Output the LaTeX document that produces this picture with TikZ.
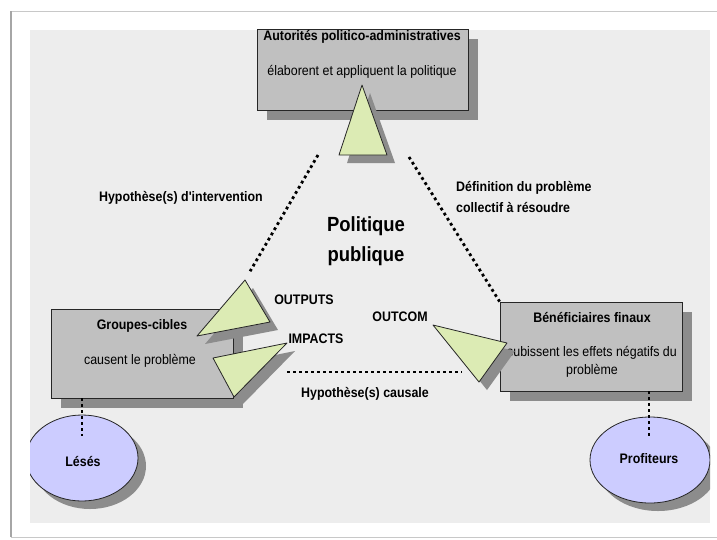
\documentclass[tikz,border=0pt]{standalone}
\usepackage{fontspec}
\setmainfont{Liberation Sans}
\newfontfamily\narrow[FakeStretch=0.9]{Liberation Sans}
\usetikzlibrary{calc,shapes.geometric,shadows}
\definecolor{bgc}{HTML}{EDEDED}
\definecolor{boxc}{HTML}{C0C0C0}
\definecolor{shc}{HTML}{8C8C8C}
\definecolor{trc}{HTML}{DCEBB4}
\definecolor{elc}{HTML}{CCCCFF}
\definecolor{framec}{HTML}{C8C8C8}
\begin{document}
\begin{tikzpicture}[x=1pt,y=-1pt,
  box/.style={draw=black!85, line width=0.8pt, fill=boxc, inner sep=0pt,
    general shadow={fill=shc, shadow xshift=10pt, shadow yshift=-10pt}},
  ell/.style={ellipse, draw=black!85, line width=0.8pt, fill=elc, inner sep=0pt,
    general shadow={fill=shc, shadow xshift=8pt, shadow yshift=-8pt}},
  tri/.style={draw=black!85, line width=0.8pt, fill=trc, line join=round},
  trish/.style={fill=shc, draw=none},
  lbl/.style={font=\narrow\fontsize{13.8}{16}\selectfont\bfseries, inner sep=0pt, anchor=base},
  txt/.style={font=\narrow\fontsize{13.8}{16}\selectfont, inner sep=0pt, anchor=base},
  big/.style={font=\narrow\fontsize{20.5}{24}\selectfont\bfseries, inner sep=0pt, anchor=base},
  dots/.style={line width=2.8pt, dash pattern=on 2.8pt off 3.2pt}
]
\useasboundingbox (0,0) rectangle (717,539);
% frame and background
\fill[white] (0,0) rectangle (717,539);
\draw[framec, line width=0.6pt] (11,11) -- (717,11);
\draw[framec, line width=0.8pt] (11,537) -- (717,537);
\draw[black!35, line width=1.6pt] (11,11) -- (11,537);
\fill[bgc] (30,30) rectangle (710,523);

% boxes
\node[box, minimum width=211pt, minimum height=81pt] (aut) at (362.5,69.5) {};
\node[box, minimum width=182pt, minimum height=89pt] (gc) at (142,353.5) {};
\node[box, minimum width=182pt, minimum height=89pt] (bf) at (591,346.5) {};

% box texts
\node[lbl] (autT) at (362,40) {Autorités politico-administratives};
\node[txt] (autD) at (362,75) {élaborent et appliquent la politique};
\node[lbl] (gcT) at (142,329) {Groupes-cibles};
\node[txt] (gcD) at (140,364) {causent le problème};
\node[lbl] (bfT) at (592,322) {Bénéficiaires finaux};
\node[txt] (bfD1) at (592,356) {subissent les effets négatifs du};
\node[txt] (bfD2) at (592,374) {problème};

% triangle vertices
\coordinate (ta) at (362,85);  \coordinate (tb) at (339,155); \coordinate (tc) at (387,155);
\coordinate (oa) at (245,280); \coordinate (ob) at (270,322); \coordinate (oc) at (197,336);
\coordinate (ia) at (287,343); \coordinate (ib) at (213,358); \coordinate (ic) at (234,397);
\coordinate (ca) at (433,325); \coordinate (cb) at (507,343); \coordinate (cc) at (479,382);

% triangle shadows
\foreach \p/\q/\r in {ta/tb/tc, oa/ob/oc, ia/ib/ic, ca/cb/cc}
  \fill[trish] ($(\p)+(8,8)$) -- ($(\q)+(8,8)$) -- ($(\r)+(8,8)$) -- cycle;
% triangles
\foreach \p/\q/\r in {ta/tb/tc, oa/ob/oc, ia/ib/ic, ca/cb/cc}
  \draw[tri] (\p) -- (\q) -- (\r) -- cycle;

% ellipses
\begin{scope}
\clip (30,30) rectangle (710,523);
\node[ell, minimum width=112pt, minimum height=86pt] (les) at (82,458) {};
\node[ell, minimum width=120pt, minimum height=86pt] (pro) at (650,460) {};
\end{scope}
\node[lbl] (lesT) at (83,466) {Lésés};
\node[lbl] (proT) at (649,463) {Profiteurs};

% dotted connectors
\coordinate (dl) at (318,155);
\coordinate (dr) at (409,157);
\coordinate (hc1) at (287,372);
\coordinate (hc2) at (462,372);
\coordinate (le) at (82,436);
\coordinate (pe) at (649,436);
\draw[dots] (dl) -- ($(oa)!0.07!(dl)$);
\draw[dots] (dr) -- (bf.north west);
\draw[dots] (hc1) -- (hc2);
\draw[dots] (gc.south -| le) -- (le);
\draw[dots] (bf.south -| pe) -- (pe);

% free labels
\node[lbl, anchor=base east] (hi) at (263,201) {Hypothèse(s) d'intervention};
\node[lbl, anchor=base west] (def1) at (456,191) {Définition du problème};
\node[lbl, anchor=base west] (def2) at (456,212) {collectif à résoudre};
\node[big] (pol1) at (366,231) {Politique};
\node[big] (pol2) at (366,261) {publique};
\node[lbl] (outp) at (304,304) {OUTPUTS};
\node[lbl] (imp) at (316,343) {IMPACTS};
\node[lbl] (outc) at (400,321) {OUTCOM};
\node[lbl] (hcT) at (365,397) {Hypothèse(s) causale};
\end{tikzpicture}
\end{document}
